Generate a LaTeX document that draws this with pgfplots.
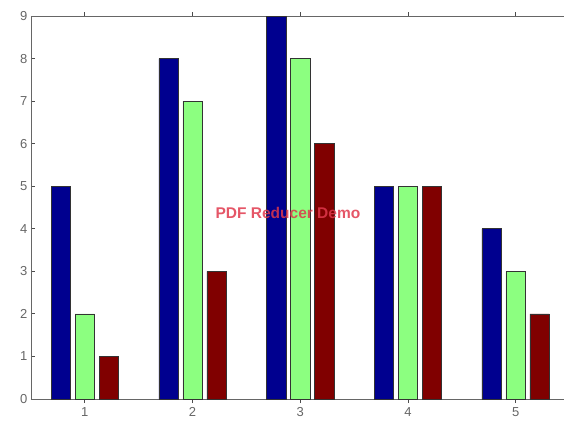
\documentclass[border=0pt]{standalone}
\usepackage{pgfplots}
\pgfplotsset{compat=1.18}
\usepackage{fontspec}
\setmainfont{Liberation Sans}
\definecolor{mblue}{rgb}{0,0,0.56}
\definecolor{mgreen}{rgb}{0.55,1,0.5}
\definecolor{mred}{rgb}{0.5,0,0}
\definecolor{axgray}{rgb}{0.4,0.4,0.4}
\definecolor{wmred}{rgb}{0.88,0.22,0.3}
\begin{document}
\begin{tikzpicture}
\begin{scope}
\clip (-31pt,-22pt) rectangle (533pt,399pt);
\begin{axis}[
  at={(0pt,0pt)}, anchor=south west,
  scale only axis,
  width=538.5pt, height=383pt,
  xmin=0.5, xmax=5.5, ymin=0, ymax=9,
  ybar=4.5pt, bar width=19.5pt,
  xtick={1,2,3,4,5}, ytick={0,1,...,9},
  axis line style={axgray, line width=0.9pt},
  tick style={black!70, line width=0.8pt},
  major tick length=4pt,
  tick label style={font=\fontsize{13}{15}\selectfont, text=black!60},
  /pgf/number format/assume math mode=true,
  xticklabel style={yshift=-1pt},
  every axis plot/.append style={draw=black!80, line width=0.6pt},
]
\addplot[fill=mblue] coordinates {(1,5) (2,8) (3,9) (4,5) (5,4)};
\addplot[fill=mgreen] coordinates {(1,2) (2,7) (3,8) (4,5) (5,3)};
\addplot[fill=mred] coordinates {(1,1) (2,3) (3,6) (4,5) (5,2)};
\node[text=wmred, opacity=0.85, font=\bfseries\fontsize{15.5}{18}\selectfont] at (axis cs:2.886,4.37) {PDF Reducer Demo};
\end{axis}
\end{scope}
\pgfresetboundingbox
\path[use as bounding box] (-31pt,-22pt) rectangle (533pt,399pt);
\end{tikzpicture}
\end{document}
